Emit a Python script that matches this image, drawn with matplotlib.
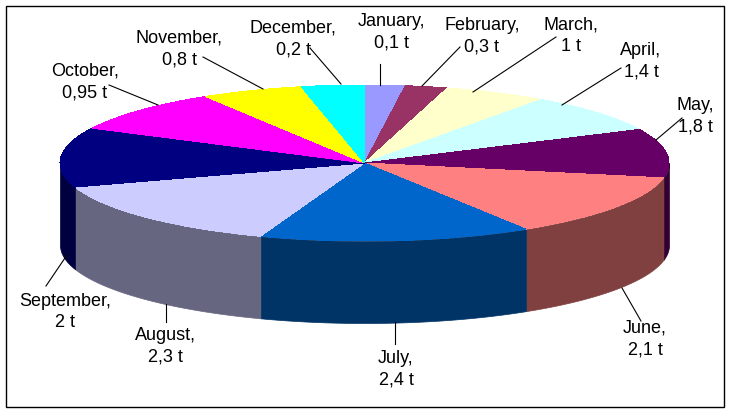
import numpy as np
import matplotlib
matplotlib.use('Agg')
import matplotlib.pyplot as plt
import matplotlib.colors as mcolors

months = ['January', 'February', 'March', 'April', 'May', 'June', 'July',
          'August', 'September', 'October', 'November', 'December']
tonnes = ['0,1', '0,3', '1', '1,4', '1,8', '2,1', '2,4', '2,3', '2', '0,95', '0,8', '0,2']
# slice sizes as drawn in the picture, they do not follow the printed labels
shares = [7.7, 8.1, 19.7, 29, 36.5, 47, 52, 52, 44.5, 32, 19.5, 12]
colors = ['#9999FF', '#993366', '#FFFFCC', '#CCFFFF', '#660066', '#FF8080',
          '#0066CC', '#CCCCFF', '#000080', '#FF00FF', '#FFFF00', '#00FFFF']

# label centres and leader lines, in pixels of the 730x412 image
label_pos = [(391, 32), (482, 36), (571, 36), (641, 61), (695, 116), (645, 339),
             (396, 369), (165, 346), (65, 312), (85, 82), (179, 49), (293, 39)]
leaders = [((380, 64), (380, 85)), ((460, 47), (422, 86)), ((556, 37), (473, 92)),
           ((621, 68), (562, 105)), ((682, 118), (656, 140)), ((641, 321), (622, 288)),
           ((395, 344), (395, 322)), ((166, 322), (166, 304)), ((46, 286), (67, 255)),
           ((109, 85), (158, 105)), ((203, 57), (263, 89)), ((310, 48), (341, 84))]

W, H = 730, 412
left, right, top, rim_bottom, depth = 60, 669, 85, 241, 82
ry = (rim_bottom - top) / 2
depth_u = depth / ry

plt.rcParams['font.family'] = ['Liberation Sans', 'DejaVu Sans']
fig = plt.figure(figsize=(W / 100, H / 100), dpi=100, facecolor='white')

# pie axes stretched over the ellipse plus the wall below it
ax = fig.add_axes([left / W, 1 - (rim_bottom + depth) / H,
                   (right - left) / W, (rim_bottom + depth - top) / H])
ax.pie(shares, colors=colors, startangle=90, counterclock=False, radius=1,
       wedgeprops={'linewidth': 0, 'antialiased': False, 'zorder': 3})
ax.set_aspect('auto')
ax.set_xlim(-1, 1)
ax.set_ylim(-1 - depth_u, 1)
ax.axis('off')

# side wall, half as bright as the top of each slice
edges = np.cumsum([0] + shares) / sum(shares) * 360
for i in range(len(shares)):
    a0, a1 = max(edges[i], 90), min(edges[i + 1], 270)
    if a1 <= a0:
        continue
    t = np.radians(np.linspace(a0, a1, 80))
    x, y = np.sin(t), np.cos(t)
    wall = mcolors.to_rgb(colors[i])
    wall = tuple(c * 0.5 for c in wall)
    ax.fill_between(x, y - depth_u, y, facecolor=wall, edgecolor=wall, linewidth=0.5,
                    antialiased=False, zorder=2)

# overlay in image pixels for frame, leaders and labels
over = fig.add_axes([0, 0, 1, 1], facecolor='none')
over.set_xlim(0, W)
over.set_ylim(H, 0)
over.axis('off')
over.add_patch(plt.Rectangle((5.5, 5.5), 718, 401, fill=False, edgecolor='black', linewidth=1))
for (x0, y0), (x1, y1) in leaders:
    over.plot([x0, x1], [y0, y1], color='black', linewidth=0.8)
for m, v, (x, y) in zip(months, tonnes, label_pos):
    over.text(x, y, f'{m},\n{v} t', ha='center', va='center', fontsize=13,
              linespacing=1.34, color='black')

fig.savefig('out.png', dpi=100)
